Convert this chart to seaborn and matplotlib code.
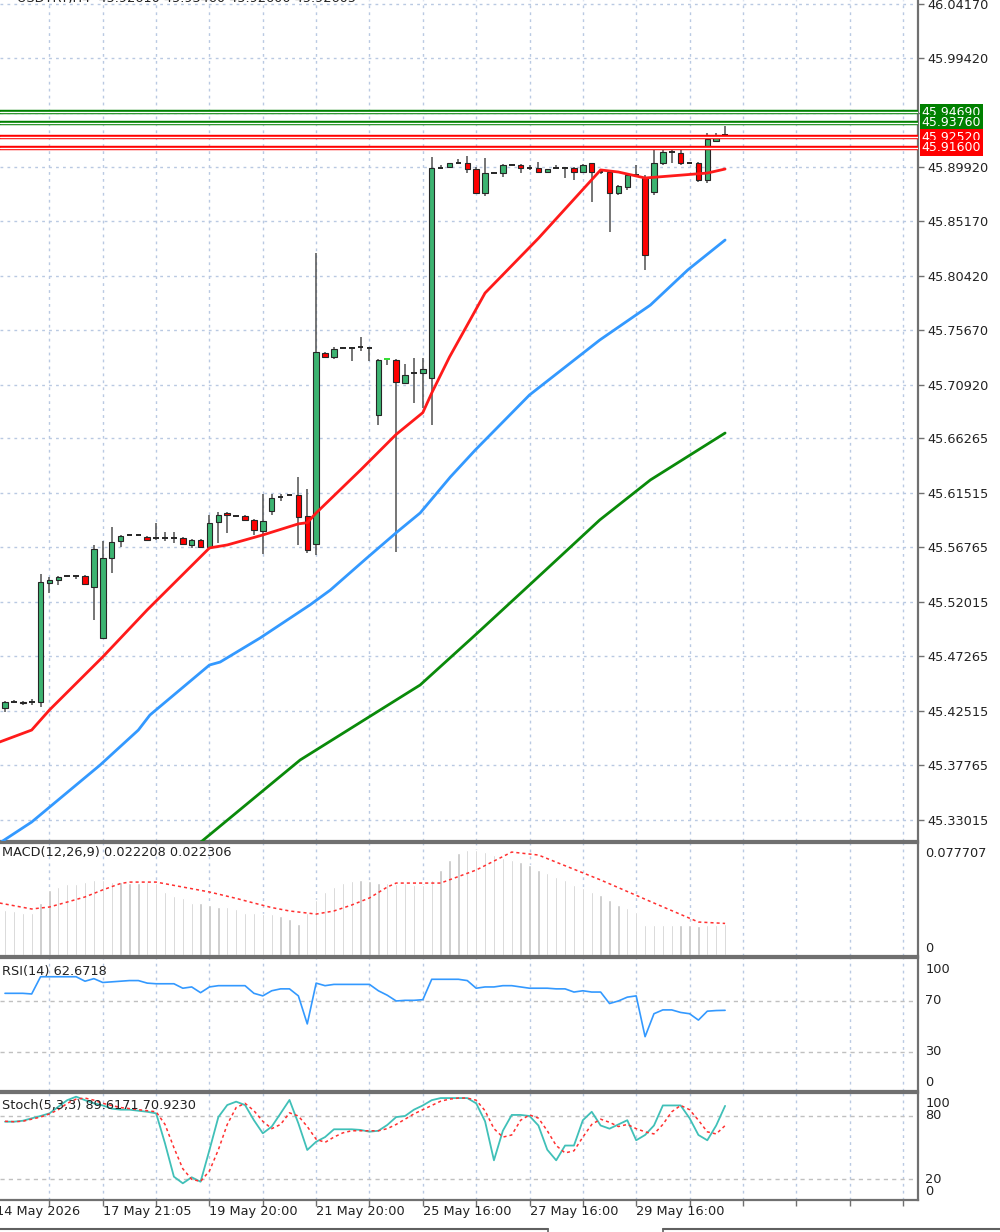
import numpy as np
import pandas as pd
import matplotlib
matplotlib.use("Agg")
import matplotlib.pyplot as plt
from matplotlib.transforms import blended_transform_factory
from matplotlib.lines import Line2D
import seaborn as sns

sns.set_theme(style="white")
plt.rcParams['font.family'] = ['DejaVu Sans']

# ---------------- data ----------------
opens = [45.4274, 45.4327, 45.4327, 45.4327, 45.4327, 45.5364, 45.5390, 45.5425, 45.5425, 45.5425,
         45.5329, 45.4885, 45.5582, 45.5730, 45.5783, 45.5783, 45.5765, 45.5757, 45.5757, 45.5757,
         45.5757, 45.5696, 45.5739, 45.5678, 45.5896, 45.5975, 45.5948, 45.5948, 45.5914, 45.5818,
         45.5992, 45.6114, 45.6132, 45.6132, 45.5948, 45.5704, 45.7370, 45.7335, 45.7413, 45.7413,
         45.7422, 45.7413, 45.6829, 45.7318, 45.7309, 45.7108, 45.7195, 45.7195, 45.7152, 45.8983,
         45.8992, 45.9027, 45.9027, 45.8974, 45.8765, 45.8939, 45.8939, 45.9009, 45.9009, 45.8983,
         45.8983, 45.8948, 45.8983, 45.8983, 45.8983, 45.8948, 45.9027, 45.8948, 45.8948, 45.8765,
         45.8817, 45.8922, 45.8896, 45.8774, 45.9027, 45.9123, 45.9114, 45.9027, 45.9027, 45.8878,
         45.9219, 45.9271]
highs = [45.4335, 45.4344, 45.4335, 45.4353, 45.5443, 45.5417, 45.5425, 45.5434, 45.5434, 45.5434,
         45.5696, 45.5730, 45.5853, 45.5783, 45.5792, 45.5792, 45.5774, 45.5887, 45.5809, 45.5809,
         45.5765, 45.5748, 45.5748, 45.5957, 45.5983, 45.5980, 45.5957, 45.5957, 45.5922, 45.6140,
         45.6140, 45.6140, 45.6140, 45.6289, 45.6184, 45.8242, 45.7379, 45.7422, 45.7420, 45.7420,
         45.7509, 45.7420, 45.7318, 45.7320, 45.7318, 45.7274, 45.7326, 45.7326, 45.9079, 45.9009,
         45.9009, 45.9062, 45.9088, 45.8992, 45.9070, 45.8948, 45.9018, 45.9018, 45.9018, 45.9009,
         45.9035, 45.8966, 45.9009, 45.8990, 45.8992, 45.9018, 45.9030, 45.8957, 45.8966, 45.8835,
         45.8939, 45.9009, 45.8922, 45.9140, 45.9140, 45.9175, 45.9175, 45.9035, 45.9035, 45.9288,
         45.9288, 45.9349]
lows = [45.4240, 45.4318, 45.4300, 45.4300, 45.4283, 45.5277, 45.5347, 45.5417, 45.5399, 45.5347,
        45.5042, 45.4880, 45.5452, 45.5678, 45.5774, 45.5774, 45.5730, 45.5739, 45.5730, 45.5713,
        45.5696, 45.5670, 45.5678, 45.5661, 45.5713, 45.5800, 45.5940, 45.5905, 45.5783, 45.5617,
        45.5957, 45.6079, 45.6125, 45.5696, 45.5626, 45.5608, 45.7326, 45.7318, 45.7405, 45.7300,
        45.7387, 45.7300, 45.6742, 45.7265, 45.5635, 45.7100, 45.6934, 45.6890, 45.6742, 45.8974,
        45.8983, 45.9018, 45.8939, 45.8765, 45.8739, 45.8930, 45.8905, 45.9000, 45.8939, 45.8966,
        45.8940, 45.8939, 45.8975, 45.8896, 45.8878, 45.8939, 45.8687, 45.8935, 45.8425, 45.8748,
        45.8791, 45.8910, 45.8094, 45.8748, 45.9009, 45.9027, 45.9009, 45.9018, 45.8861, 45.8852,
        45.9219, 45.9271]
closes = [45.4327, 45.4326, 45.4322, 45.4330, 45.5373, 45.5390, 45.5417, 45.5423, 45.5423, 45.5356,
          45.5661, 45.5582, 45.5722, 45.5774, 45.5781, 45.5785, 45.5739, 45.5755, 45.5755, 45.5755,
          45.5704, 45.5739, 45.5680, 45.5887, 45.5957, 45.5957, 45.5946, 45.5914, 45.5826, 45.5905,
          45.6105, 45.6112, 45.6130, 45.5940, 45.5652, 45.7379, 45.7335, 45.7405, 45.7411, 45.7411,
          45.7420, 45.7411, 45.7309, 45.7316, 45.7117, 45.7178, 45.7193, 45.7230, 45.8983, 45.8981,
          45.9027, 45.9025, 45.8974, 45.8767, 45.8939, 45.8941, 45.9009, 45.9007, 45.8983, 45.8981,
          45.8948, 45.8974, 45.8981, 45.8981, 45.8948, 45.9009, 45.8948, 45.8946, 45.8765, 45.8826,
          45.8922, 45.8920, 45.8224, 45.9027, 45.9123, 45.9121, 45.9027, 45.9025, 45.8878, 45.9236,
          45.9262, 45.9272]

# moving averages (value read at candle positions)
ma_fast_idx = [-0.6, 3, 5, 11, 16, 23, 25, 29, 33, 34, 35, 40, 44, 47, 48, 50, 54, 60, 67, 69, 72, 79, 81]
ma_fast_val = [45.3978, 45.4082, 45.4257, 45.4720, 45.5130, 45.5670, 45.5696, 45.5783, 45.5880, 45.5890,
               45.5975, 45.6350, 45.6660, 45.6850, 45.7021, 45.7335, 45.7893, 45.8370, 45.8966, 45.8948,
               45.8896, 45.8939, 45.8974]
ma_mid_idx = [-0.6, 3, 10.7, 15, 16.3, 23, 24.2, 28.7, 34.3, 36.6, 40.7, 44.1, 46.7, 50.1, 52.9, 59, 66.9, 72.6, 76.8, 81]
ma_mid_val = [45.3097, 45.3280, 45.3777, 45.4082, 45.4213, 45.4649, 45.4675, 45.4885, 45.5173, 45.5303,
              45.5582, 45.5809, 45.5975, 45.6289, 45.6524, 45.7004, 45.7483, 45.7788, 45.8094, 45.8355]
ma_slow_idx = [21.9, 33.2, 46.7, 52.9, 59, 66.9, 72.6, 81]
ma_slow_val = [45.3097, 45.3821, 45.4475, 45.4911, 45.5347, 45.5914, 45.6263, 45.6672]

level_prices = [45.94690, 45.93760, 45.92520, 45.91600]
level_colors = ['#008000', '#008000', '#ff0000', '#ff0000']

price_ticks = [46.04170, 45.99420, 45.94670, 45.89920, 45.85170, 45.80420, 45.75670, 45.70920,
               45.66265, 45.61515, 45.56765, 45.52015, 45.47265, 45.42515, 45.37765, 45.33015]

macd_hist = [0.0318, 0.0313, 0.0299, 0.0294, 0.0365, 0.0459, 0.0482, 0.0499, 0.0499, 0.0518,
             0.0530, 0.0530, 0.0518, 0.0518, 0.0506, 0.0506, 0.0518, 0.0506, 0.0447, 0.0417,
             0.0400, 0.0369, 0.0365, 0.0353, 0.0341, 0.0341, 0.0323, 0.0299, 0.0294, 0.0289,
             0.0289, 0.0275, 0.0252, 0.0219, 0.0294, 0.0388, 0.0447, 0.0482, 0.0510, 0.0525,
             0.0530, 0.0525, 0.0510, 0.0506, 0.0500, 0.0508, 0.0494, 0.0494, 0.0530, 0.0600,
             0.0671, 0.0720, 0.0741, 0.0741, 0.0727, 0.0706, 0.0685, 0.0671, 0.0657, 0.0635,
             0.0600, 0.0579, 0.0551, 0.0530, 0.0494, 0.0473, 0.0445, 0.0424, 0.0388, 0.0353,
             0.0332, 0.0304, 0.0212, 0.0212, 0.0212, 0.0212, 0.0212, 0.0212, 0.0205, 0.0212,
             0.0215, 0.0222]
macd_sig_idx = [-0.6, 3, 5, 7, 9, 11, 13, 14, 17, 20, 23, 26, 28, 30, 32, 35, 37, 39, 41, 43, 44,
                49, 53, 57, 60, 67, 73, 78, 81]
macd_sig_val = [0.0367, 0.0325, 0.0339, 0.0374, 0.0410, 0.0460, 0.0505, 0.0515, 0.0515, 0.0480, 0.0445,
                0.0400, 0.0367, 0.0335, 0.0311, 0.0289, 0.0311, 0.0353, 0.0403, 0.0480, 0.0508,
                0.0508, 0.0600, 0.0727, 0.0706, 0.0530, 0.0367, 0.0233, 0.0223]

rsi = [76, 76, 76, 75.5, 89, 89, 89, 89, 89, 85.5,
       87.5, 84.5, 85, 85.5, 86, 86, 84, 83.5, 83.5, 83.5,
       80, 81, 76.5, 81, 82, 82, 82, 82, 76, 74,
       78, 79.5, 79.5, 74, 52, 84, 82, 83, 83, 83,
       83, 83, 78, 74.5, 70, 70.5, 70.5, 71, 87, 87,
       87, 87, 86, 80, 81, 81, 82, 82, 81, 80,
       80, 80, 79.5, 79.5, 77, 78, 77, 77, 68, 70,
       73, 74, 42, 60, 63, 63, 61, 60, 55, 62,
       62.5, 62.67]

stoch_main = [74.6, 74.6, 75.5, 77.8, 80, 82.5, 88.8, 95, 98.3, 95,
              92, 90, 87, 86, 86, 85, 84, 82.5, 54, 22.5,
              16.2, 21.9, 17.7, 47.8, 79, 90.4, 93.6, 90.4, 76, 63.6,
              69.9, 82.5, 95.2, 73, 47.8, 55.6, 60, 67.4, 67.4, 67.4,
              66.8, 65.1, 66, 71.5, 79, 80, 86, 90, 95, 97,
              97, 97, 97, 92, 75, 38, 66, 81, 81, 80,
              71, 48, 38, 52, 52, 76, 84, 71, 68, 72,
              76, 57, 62, 71, 90, 90, 90, 78, 62, 57,
              71, 89.6]
stoch_sig = [75, 74.6, 75, 77, 79, 82, 86, 92, 96, 97,
             95, 92, 90, 88, 87, 86, 85, 84, 72, 50,
             30, 20, 18, 28, 48, 72, 88, 92, 85, 75,
             68, 72, 83, 80, 70, 58, 55, 60, 64, 66,
             66, 66, 66, 68, 72, 77, 82, 86, 90, 94,
             96, 97, 97, 95, 85, 68, 60, 62, 76, 81,
             78, 66, 52, 45, 47, 60, 72, 77, 74, 70,
             72, 68, 65, 63, 72, 84, 90, 86, 76, 65,
             63, 70.9]

date_labels = ["14 May 2026", "17 May 21:05", "19 May 20:00", "21 May 20:00",
               "25 May 16:00", "27 May 16:00", "29 May 16:00"]
date_label_idx = [-1, 11, 23, 35, 47, 59, 71]

# ---------------- layout ----------------
W, H = 1000, 1232
fig = plt.figure(figsize=(W / 100, H / 100), dpi=100)
fig.patch.set_facecolor('white')

def ax_at(top_px, bottom_px):
    return fig.add_axes([0, 1 - bottom_px / H, 0.918, (bottom_px - top_px) / H])

ax = ax_at(0, 841)
ax_macd = ax_at(843, 956)
ax_rsi = ax_at(958, 1091)
ax_sto = ax_at(1093, 1200)

n = len(opens)
idx = np.arange(n)
XL = (-0.5624, 102.70)
grid_x = list(range(5, 103, 6))
GRID_C = '#b9c9e2'
SPINE_C = '#707070'
TXT_C = '#222222'
FS = 9.3

for a in (ax, ax_macd, ax_rsi, ax_sto):
    a.set_xlim(*XL)
    a.set_facecolor('white')
    a.spines['left'].set_visible(False)
    for s in ('top', 'bottom', 'right'):
        a.spines[s].set_color(SPINE_C)
        a.spines[s].set_linewidth(1.6)
    a.set_xticks([])
    for gx in grid_x:
        a.axvline(gx, color=GRID_C, lw=1, ls=(0, (2, 3)), zorder=0)
ax.spines['top'].set_visible(False)

# ---------------- main price panel ----------------
ax.set_ylim(45.31145, 46.0448)
for p in price_ticks:
    ax.axhline(p, color=GRID_C, lw=1, ls=(0, (2, 3)), zorder=0)
ax.yaxis.tick_right()
ax.set_yticks(price_ticks)
ax.set_yticklabels([f"{p:.5f}" if abs(p - 45.94670) > 1e-6 else "" for p in price_ticks])
ax.tick_params(axis='y', length=4, width=1, color=SPINE_C, pad=3, labelsize=FS, labelcolor=TXT_C)

df = pd.DataFrame({'i': idx, 'o': opens, 'h': highs, 'l': lows, 'c': closes})
ax.vlines(df['i'], df['l'], df['h'], color='#505050', lw=1.1, zorder=2)
body = (df['c'] - df['o']).abs()
is_doji = body < 0.0004
bull = df['c'] >= df['o']
cols = np.where(bull, '#3cb371', '#ff0000')
nd = ~is_doji
ax.bar(df['i'][nd], body[nd], bottom=np.minimum(df['o'], df['c'])[nd], width=0.62,
       color=cols[nd], edgecolor='#262626', linewidth=0.8, zorder=3)
dj = df[is_doji]
doji_cols = ['#33dd33' if i == 43 else '#262626' for i in dj['i']]
ax.hlines(dj['c'], dj['i'] - 0.32, dj['i'] + 0.32, colors=doji_cols, lw=1.4, zorder=3)

sns.lineplot(x=ma_slow_idx, y=ma_slow_val, ax=ax, color='#0a8a0a', lw=2, zorder=4, legend=False)
sns.lineplot(x=ma_mid_idx, y=ma_mid_val, ax=ax, color='#3399ff', lw=2, zorder=4, legend=False)
sns.lineplot(x=ma_fast_idx, y=ma_fast_val, ax=ax, color='#ff1a1a', lw=2, zorder=4, legend=False)

trans_lv = blended_transform_factory(ax.transAxes, ax.transData)
for p, c in zip(level_prices, level_colors):
    ax.axhline(p, color=c, lw=3.2, zorder=5)
    ax.axhline(p, color='white', lw=1.0, zorder=5)
    ax.text(1.004, p, f"{p:.5f}", transform=trans_lv, ha='left', va='center', fontsize=FS - 0.3,
            color='white', clip_on=False, zorder=10,
            bbox=dict(boxstyle='square,pad=0.12', fc=c, ec='none'))

# header line, partly cut by the top edge as in the original
fig.text(0.017, 1 + 1.5 / H, "USDTRY,H4  45.92610 45.93460 45.92600 45.92605",
         ha='left', va='center', fontsize=FS, color=TXT_C)
ax.set_xlabel('')
ax.set_ylabel('')

# ---------------- MACD ----------------
ax_macd.set_ylim(-0.0007, 0.0791)
ax_macd.bar(idx, macd_hist, width=0.26, color='#c4c4c4', zorder=2)
sns.lineplot(x=macd_sig_idx, y=macd_sig_val, ax=ax_macd, color='#ff3030', lw=1.1,
             linestyle=(0, (2, 2)), zorder=3, legend=False)
ax_macd.set_yticks([])
ax_macd.text(0.002, 0.92, "MACD(12,26,9) 0.022208 0.022306", transform=ax_macd.transAxes,
             ha='left', va='center', fontsize=FS, color=TXT_C)
tr = blended_transform_factory(ax_macd.transAxes, ax_macd.transData)
ax_macd.text(1.008, 0.0720, "0.077707", transform=tr, ha='left', va='center', fontsize=FS, color=TXT_C, clip_on=False)
ax_macd.text(1.008, 0.0049, "0", transform=tr, ha='left', va='center', fontsize=FS, color=TXT_C, clip_on=False)

# ---------------- RSI ----------------
ax_rsi.set_ylim(-0.6, 103.7)
for lv in (70, 30):
    ax_rsi.axhline(lv, color='#c0c0c0', lw=1, ls=(0, (3, 3)), zorder=1)
sns.lineplot(x=idx, y=rsi, ax=ax_rsi, color='#3399ff', lw=1.2, zorder=3, legend=False)
ax_rsi.set_yticks([])
ax_rsi.text(0.002, 0.9, "RSI(14) 62.6718", transform=ax_rsi.transAxes,
            ha='left', va='center', fontsize=FS, color=TXT_C)
tr = blended_transform_factory(ax_rsi.transAxes, ax_rsi.transData)
for v, lab in ((94.3, "100"), (70, "70"), (30, "30"), (5.7, "0")):
    ax_rsi.text(1.008, v, lab, transform=tr, ha='left', va='center', fontsize=FS, color=TXT_C, clip_on=False)

# ---------------- Stochastic ----------------
ax_sto.set_ylim(0.38, 101.8)
for lv in (80, 20):
    ax_sto.axhline(lv, color='#c0c0c0', lw=1, ls=(0, (3, 3)), zorder=1)
sns.lineplot(x=idx, y=stoch_main, ax=ax_sto, color='#40c0b8', lw=1.3, zorder=3, legend=False)
sns.lineplot(x=idx, y=stoch_sig, ax=ax_sto, color='#ff3030', lw=1.1, linestyle=(0, (2, 2)),
             zorder=3, legend=False)
ax_sto.set_yticks([])
ax_sto.text(0.002, 0.88, "Stoch(5,3,3) 89.6171 70.9230", transform=ax_sto.transAxes,
            ha='left', va='center', fontsize=FS, color=TXT_C)
tr = blended_transform_factory(ax_sto.transAxes, ax_sto.transData)
for v, lab in ((92.3, "100"), (80, "80"), (20, "20"), (8, "0")):
    ax_sto.text(1.008, v, lab, transform=tr, ha='left', va='center', fontsize=FS, color=TXT_C, clip_on=False)

for a in (ax_macd, ax_rsi, ax_sto):
    a.set_xlabel('')
    a.set_ylabel('')

# x axis ticks & date labels
ax_sto.set_xticks(grid_x)
ax_sto.set_xticklabels([])
ax_sto.tick_params(axis='x', length=4, width=1, color=SPINE_C, bottom=True)
trx = blended_transform_factory(ax_sto.transData, ax_sto.transAxes)
for i, lab in zip(date_label_idx, date_labels):
    ax_sto.text(i, -0.11, lab, transform=trx, ha='left', va='center', fontsize=FS,
                color=TXT_C, clip_on=False)

# bottom tab strip
yb = 1 - 1229 / H
fig.add_artist(Line2D([0, 0.548], [yb, yb], color='#606060', lw=1.5))
fig.add_artist(Line2D([0.663, 1.0], [yb, yb], color='#606060', lw=1.5))
fig.add_artist(Line2D([0.548, 0.548], [yb, 0], color='#606060', lw=1.2))
fig.add_artist(Line2D([0.663, 0.663], [yb, 0], color='#606060', lw=1.2))

fig.savefig("out.png", dpi=100, facecolor='white')
